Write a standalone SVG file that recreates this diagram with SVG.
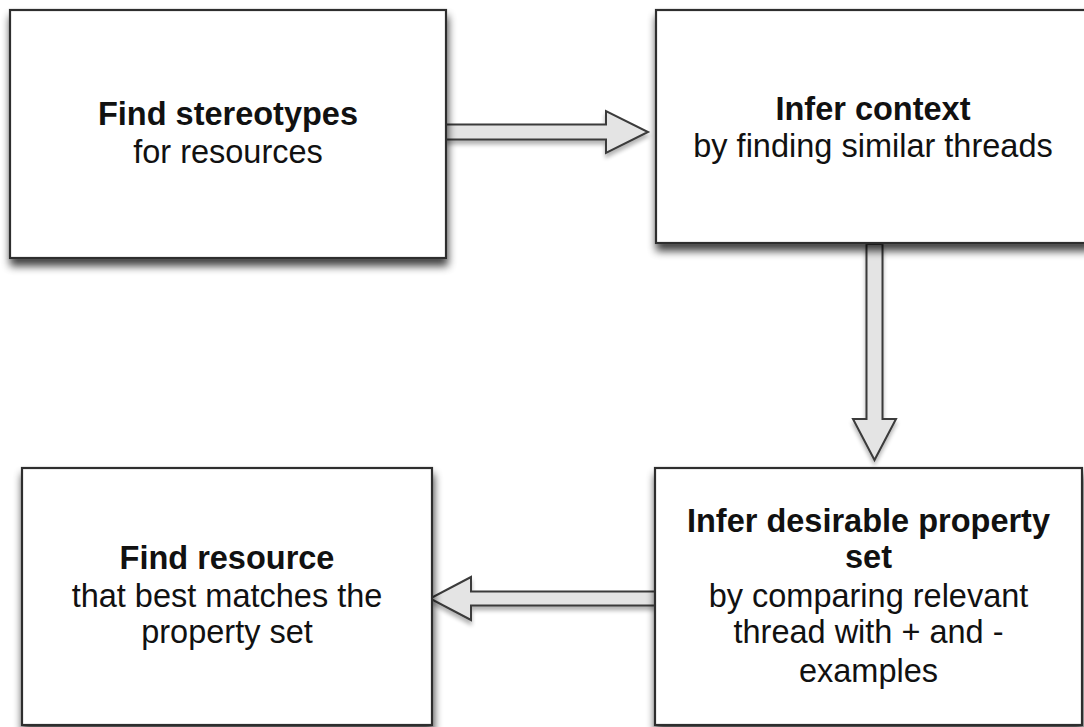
<svg xmlns="http://www.w3.org/2000/svg" width="1084" height="727" viewBox="0 0 1084 727">
  <defs>
    <filter id="boxShadow" x="-10%" y="-10%" width="120%" height="125%">
      <feGaussianBlur in="SourceAlpha" stdDeviation="4.5"/>
      <feOffset dx="1" dy="7" result="b"/>
      <feComponentTransfer><feFuncA type="linear" slope="0.75"/></feComponentTransfer>
      <feMerge><feMergeNode/><feMergeNode in="SourceGraphic"/></feMerge>
    </filter>
    <filter id="arrowShadow" x="-20%" y="-20%" width="140%" height="160%">
      <feGaussianBlur in="SourceAlpha" stdDeviation="2"/>
      <feOffset dx="0" dy="4" result="b"/>
      <feComponentTransfer><feFuncA type="linear" slope="0.3"/></feComponentTransfer>
      <feMerge><feMergeNode/><feMergeNode in="SourceGraphic"/></feMerge>
    </filter>
  </defs>
  <style>
    .box { fill: #ffffff; stroke: #2e2e2e; stroke-width: 2.2; filter: url(#boxShadow); }
    .arrow { fill: #e4e4e4; stroke: #3a3a3a; stroke-width: 2; stroke-linejoin: miter; filter: url(#arrowShadow); }
    text { font-family: "Liberation Sans", Arial, Helvetica, sans-serif; font-size: 32.5px; fill: #111111; text-anchor: middle; }
    .title { font-weight: bold; }
  </style>
  <rect width="1084" height="727" fill="#ffffff"/>

  <g id="connectors">
    <!-- stereotypes -> context -->
    <path class="arrow" d="M446,124.5 H606 V111 L648,132 L606,153 V139.5 H446 Z"/>
    <!-- context -> desirable property set -->
    <path class="arrow" d="M866.5,244 V419 H853 L874.5,460 L896,419 H882.5 V244 Z"/>
    <!-- desirable property set -> resource -->
    <path class="arrow" d="M655,591.5 H471 V577 L430,598.5 L471,620 V605.5 H655 Z"/>
  </g>

  <g id="node-stereotypes">
    <rect class="box" x="10" y="10" width="436" height="248"/>
    <text class="title" x="228" y="125">Find stereotypes</text>
    <text x="228" y="163">for resources</text>
  </g>

  <g id="node-context">
    <rect class="box" x="656" y="10" width="434" height="233"/>
    <text class="title" x="873" y="120">Infer context</text>
    <text x="873" y="157">by finding similar threads</text>
  </g>

  <g id="node-resource">
    <rect class="box" x="22" y="468" width="410" height="257"/>
    <text class="title" x="227" y="569">Find resource</text>
    <text x="227" y="607">that best matches the</text>
    <text x="227" y="643">property set</text>
  </g>

  <g id="node-property-set">
    <rect class="box" x="655" y="468" width="427" height="257"/>
    <text class="title" x="868.5" y="532">Infer desirable property</text>
    <text class="title" x="868.5" y="568">set</text>
    <text x="868.5" y="607">by comparing relevant</text>
    <text x="868.5" y="643">thread with + and -</text>
    <text x="868.5" y="682">examples</text>
  </g>
</svg>
